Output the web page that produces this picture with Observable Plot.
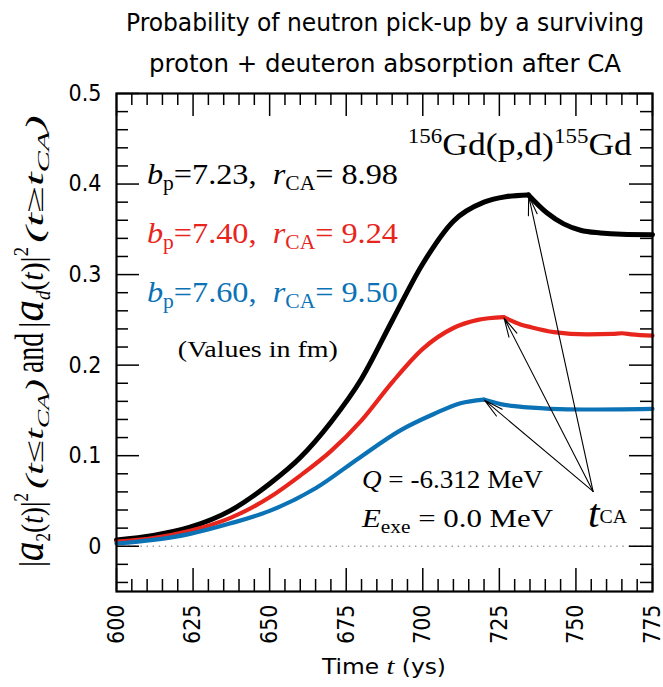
<!DOCTYPE html>
<html><head><meta charset="utf-8">
<script src="https://cdn.jsdelivr.net/npm/d3@7"></script>
<script src="https://cdn.jsdelivr.net/npm/@observablehq/plot@0.6"></script>
<style>body{margin:0;background:#fff}</style>
</head><body><div id="chart"></div>
<script>
// ---------- data ----------
const titleLines = ["Probability of neutron pick-up by a surviving", "proton + deuteron absorption after CA"];
const xMajor = [600, 625, 650, 675, 700, 725, 750, 775];
const xMinor = [605,610,615,620,630,635,640,645,655,660,665,670,680,685,690,695,705,710,715,720,730,735,740,745,755,760,765,770];
const yMajor = [0, 0.1, 0.2, 0.3, 0.4, 0.5];
const yMinor = [-0.04,-0.02,0.02,0.04,0.06,0.08,0.12,0.14,0.16,0.18,0.22,0.24,0.26,0.28,0.32,0.34,0.36,0.38,0.42,0.44,0.46,0.48];

const bpValues = ["7.23", "7.40", "7.60"];
const rcaValues = ["8.98", "9.24", "9.50"];
const tCA = [734.5, 726.4, 719.9];

const tBlack = [600, 612, 624, 637, 650, 660, 670, 680, 690, 700, 710, 720, 727, 734.5, 740.6, 746, 751.5, 758, 765, 775];
const yBlack = [0.007, 0.012, 0.021, 0.039, 0.069, 0.098, 0.137, 0.185, 0.249, 0.312, 0.359, 0.380, 0.386, 0.388, 0.368, 0.356, 0.349, 0.346, 0.3445, 0.344];

const tRed = [600, 612, 624, 637, 650, 660, 670, 680, 690, 700, 710, 718, 726.4, 731.9, 735.2, 742.8, 753.7, 762, 765, 768, 775];
const yRed = [0.005, 0.009, 0.017, 0.031, 0.054, 0.078, 0.105, 0.139, 0.181, 0.218, 0.241, 0.250, 0.253, 0.245, 0.242, 0.2365, 0.234, 0.2345, 0.2352, 0.234, 0.2325];

const tBlue = [600, 612, 624, 637, 650, 665, 679, 692.7, 703.6, 712.3, 719.9, 725.4, 730.8, 741.7, 752.6, 775];
const yBlue = [0.003, 0.007, 0.0137, 0.025, 0.039, 0.064, 0.097, 0.128, 0.146, 0.158, 0.162, 0.157, 0.1544, 0.1518, 0.151, 0.1518];

// ---------- styles ----------
const colors = ["#000000", "#e8251c", "#0a72b5"];
const widths = [5, 4.2, 4.2];
const SERIF = "'Liberation Serif', 'Times New Roman', serif";
const SANS = "'DejaVu Sans Condensed', 'DejaVu Sans', sans-serif";

const W = 663, H = 687, mL = 116, mR = 11, mT = 93, mB = 96;
const iw = W - mL - mR, ih = H - mT - mB;

const seriesT = [tBlack, tRed, tBlue];
const seriesY = [yBlack, yRed, yBlue];

function segRows(i) {
  const rows = [];
  seriesT[i].forEach((t, j) => {
    const y = seriesY[i][j];
    if (t <= tCA[i]) rows.push({t, y, seg: "rise"});
    if (t >= tCA[i]) rows.push({t, y, seg: "fall"});
  });
  return rows;
}
const peaks = tCA.map((t, i) => ({t, y: seriesY[i][seriesT[i].indexOf(t)]}));
// arrow tail (annotation anchor near the t_CA label), data coordinates
const tail = {t: 755.6, y: 0.0605};

const chart = Plot.plot({
  width: W, height: H,
  marginLeft: mL, marginRight: mR, marginTop: mT, marginBottom: mB,
  x: {domain: [600, 775]},
  y: {domain: [-0.05, 0.5]},
  style: {fontFamily: SANS, background: "white", color: "black"},
  marks: [
    Plot.ruleY([0], {stroke: "#a0a0a0", strokeDasharray: "1.5,4.6", strokeWidth: 1.3}),
    ...[0, 1, 2].map(i => Plot.line(segRows(i), {x: "t", y: "y", z: "seg", stroke: colors[i], strokeWidth: widths[i], curve: "monotone-x"})),
    Plot.arrow(peaks, {x1: () => tail.t, y1: () => tail.y, x2: "t", y2: "y", stroke: "black", strokeWidth: 1.1, headAngle: 26, headLength: 27, insetEnd: 1}),
    Plot.tickX(xMajor, {x: d => d, insetTop: ih - 23, strokeWidth: 1.5}),
    Plot.tickX(xMajor, {x: d => d, insetBottom: ih - 23, strokeWidth: 1.5}),
    Plot.tickX(xMinor, {x: d => d, insetTop: ih - 12, strokeWidth: 1.5}),
    Plot.tickX(xMinor, {x: d => d, insetBottom: ih - 12, strokeWidth: 1.5}),
    Plot.tickY(yMajor, {y: d => d, insetRight: iw - 23, strokeWidth: 1.5}),
    Plot.tickY(yMajor, {y: d => d, insetLeft: iw - 23, strokeWidth: 1.5}),
    Plot.tickY(yMinor, {y: d => d, insetRight: iw - 12, strokeWidth: 1.5}),
    Plot.tickY(yMinor, {y: d => d, insetLeft: iw - 12, strokeWidth: 1.5}),
    Plot.frame({stroke: "black", strokeWidth: 2.2}),
    Plot.axisX(xMajor, {anchor: "bottom", tickSize: 0, tickRotate: -90, tickPadding: 13, fontSize: 23, fontFamily: SANS, fill: "black", label: null}),
    Plot.axisY(yMajor, {anchor: "left", tickSize: 0, tickPadding: 15, fontSize: 23, fontFamily: SANS, fill: "black", tickFormat: d3.format("~g"), label: null})
  ]
});
document.getElementById("chart").appendChild(chart);

// ---------- rich text annotations ----------
const svg = d3.select(chart);
const sx = chart.scale("x"), sy = chart.scale("y");
function rich(x, y, parts, o = {}) {
  const t = svg.append("text")
    .attr("x", x).attr("y", y)
    .attr("font-family", o.ff || SERIF)
    .attr("fill", o.fill || "black")
    .attr("text-anchor", o.anchor || "start")
    .style("white-space", "pre");
  if (o.rotate) t.attr("transform", `rotate(${o.rotate},${x},${y})`);
  if (o.len) t.attr("textLength", o.len).attr("lengthAdjust", "spacingAndGlyphs");
  let prev = 0;
  parts.forEach(p => {
    const s = p.sh || 0;
    t.append("tspan")
      .attr("dy", s - prev)
      .attr("font-size", p.z)
      .attr("font-style", p.it ? "italic" : "normal")
      .attr("font-family", p.ff || null)
      .text(p.s);
    prev = s;
  });
  return t;
}

// title
rich(385, 31, [{s: titleLines[0], z: 24}], {ff: SANS, anchor: "middle", len: 518});
rich(385, 72, [{s: titleLines[1], z: 24}], {ff: SANS, anchor: "middle", len: 472});

// x axis label
rich(384, 674, [{s: "Time ", z: 22}, {s: "t", z: 24, it: true, ff: SERIF}, {s: " (ys)", z: 22}], {ff: SANS, anchor: "middle", len: 124});

// y axis label (five rotated pieces)
const yl = 43;
rich(yl, 567, [{s: "|", z: 34}, {s: "a", z: 46, it: true}, {s: "2", z: 20, sh: 7}, {s: "(", z: 32}, {s: "t", z: 32, it: true}, {s: ")|", z: 32}, {s: "2", z: 20, sh: -15}], {rotate: -90, len: 74});
rich(yl, 489, [{s: "(t≤t", z: 26, it: true}, {s: "CA", z: 17, it: true, sh: 6}, {s: ")", z: 26, it: true}], {rotate: -90, len: 110});
rich(yl, 373, [{s: "and", z: 40}], {rotate: -90, len: 40});
rich(yl, 328, [{s: "|", z: 34}, {s: "a", z: 46, it: true}, {s: "d", z: 20, it: true, sh: 7}, {s: "(", z: 32}, {s: "t", z: 32, it: true}, {s: ")|", z: 32}, {s: "2", z: 20, sh: -15}], {rotate: -90, len: 81});
rich(yl, 243, [{s: "(t≥t", z: 26, it: true}, {s: "CA", z: 17, it: true, sh: 6}, {s: ")", z: 26, it: true}], {rotate: -90, len: 128});

// reaction label
rich(sx.apply(695.3), sy.apply(0.4317), [{s: "156", z: 20, sh: -12}, {s: "Gd(p,d)", z: 31}, {s: "155", z: 20, sh: -12}, {s: "Gd", z: 31}], {len: 224});

// legend lines
const legY = [0.3993, 0.3341, 0.2689];
[0, 1, 2].forEach(i => {
  rich(sx.apply(610.1), sy.apply(legY[i]), [
    {s: "b", z: 30, it: true}, {s: "p", z: 20, sh: 6}, {s: "=" + bpValues[i] + ",  ", z: 30},
    {s: "r", z: 30, it: true}, {s: "CA", z: 20, sh: 6}, {s: "= " + rcaValues[i], z: 30}
  ], {fill: colors[i], len: 251});
});
rich(sx.apply(620.2), sy.apply(0.2085), [{s: "(Values in fm)", z: 24}], {len: 160});

// Q and excitation energy
rich(sx.apply(680.3), sy.apply(0.0634), [{s: "Q", z: 26, it: true}, {s: " = -6.312 MeV", z: 26}], {len: 181});
rich(sx.apply(680.3), sy.apply(0.021), [{s: "E", z: 26, it: true}, {s: "exe", z: 18, sh: 6}, {s: " = 0.0 MeV", z: 26}], {len: 191});

// t_CA label
rich(sx.apply(754.1), sy.apply(0.021), [{s: "t", z: 40, it: true}, {s: "CA", z: 19, sh: -4}], {len: 39});
</script>
</body></html>
